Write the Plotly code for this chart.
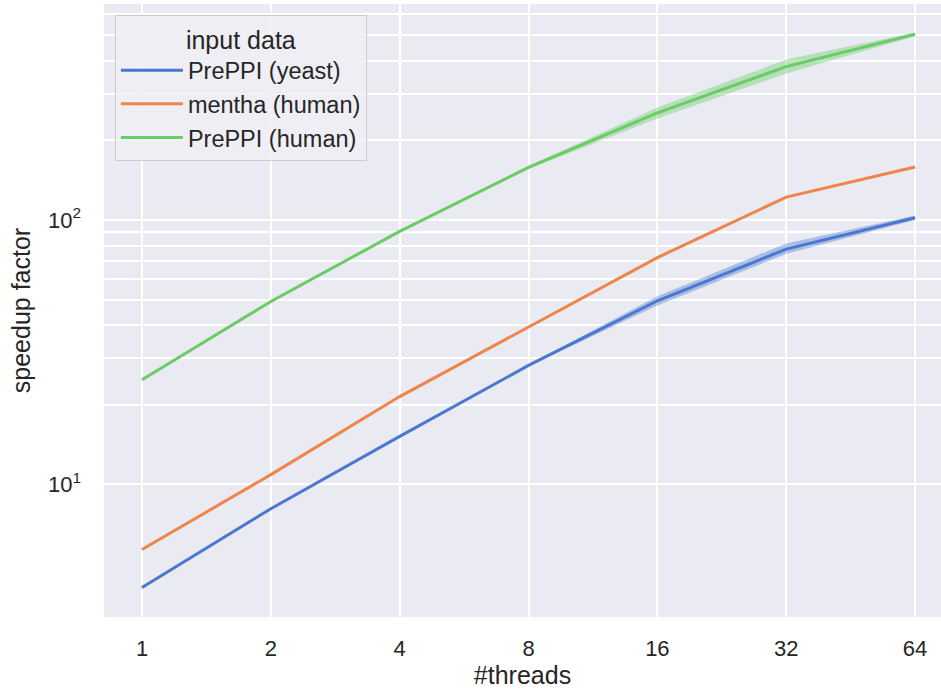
import plotly.graph_objects as go

threads = [1, 2, 4, 8, 16, 32, 64]
thread_labels = ["1", "2", "4", "8", "16", "32", "64"]

series_names = ["PrePPI (yeast)", "mentha (human)", "PrePPI (human)"]
yeast_mean = [4.08, 8.1, 15.2, 28.2, 49.5, 77.6, 102]
yeast_low = [4.05, 8.05, 15.1, 28.0, 47.5, 74.5, 100]
yeast_high = [4.11, 8.15, 15.3, 28.4, 51.5, 81.5, 104]
mentha_mean = [5.68, 10.9, 21.5, 39.5, 72.1, 122, 158.5]
mentha_low = [5.65, 10.85, 21.4, 39.3, 71.3, 121, 157]
mentha_high = [5.71, 10.95, 21.6, 39.7, 72.9, 123, 160]
human_mean = [24.9, 49.2, 90.6, 158, 254, 380, 504]
human_low = [24.8, 49.0, 90.2, 156, 242, 358, 495]
human_high = [25.0, 49.4, 91.0, 160, 266, 404, 512]

colors = ["#4878D0", "#EE854A", "#6ACC64"]
fills = ["rgba(72,120,208,0.4)", "rgba(238,133,74,0.4)", "rgba(106,204,100,0.4)"]

y_grid_vals = [10, 20, 30, 40, 50, 60, 70, 80, 90, 100, 200, 300, 400, 500, 600]
y_grid_text = ["10<sup>1</sup>", "", "", "", "", "", "", "", "", "10<sup>2</sup>", "", "", "", "", ""]

means = [yeast_mean, mentha_mean, human_mean]
lows = [yeast_low, mentha_low, human_low]
highs = [yeast_high, mentha_high, human_high]

fig = go.Figure()
for i in range(3):
    fig.add_trace(go.Scatter(x=threads, y=lows[i], mode="lines", line=dict(width=0),
                             showlegend=False, hoverinfo="skip"))
    fig.add_trace(go.Scatter(x=threads, y=highs[i], mode="lines", line=dict(width=0),
                             fill="tonexty", fillcolor=fills[i], showlegend=False, hoverinfo="skip"))
for i in range(3):
    fig.add_trace(go.Scatter(x=threads, y=means[i], mode="lines", name=series_names[i],
                             line=dict(color=colors[i], width=3)))

font_family = "Liberation Sans, Arial, sans-serif"
fig.update_layout(
    width=941, height=693,
    margin=dict(l=104, r=0, t=4, b=76),
    paper_bgcolor="white",
    plot_bgcolor="#EAEAF2",
    font=dict(family=font_family, size=22, color="#262626"),
    legend=dict(
        x=0.013, y=0.982, xanchor="left", yanchor="top",
        traceorder="normal", itemwidth=62,
        bgcolor="rgba(238,238,244,0.85)", bordercolor="#CCCCCC", borderwidth=1,
        title=dict(text="input data", side="top center", font=dict(size=25)),
        font=dict(size=23.5),
    ),
    xaxis=dict(
        type="log", range=[-0.0888, 1.8668],
        tickvals=threads, ticktext=thread_labels,
        showgrid=True, gridcolor="white", gridwidth=2,
        zeroline=False, showline=False, ticks="",
        ticklabelstandoff=16, tickfont=dict(size=22),
        title=dict(text="#threads", standoff=6, font=dict(size=25)),
    ),
    yaxis=dict(
        type="log", range=[0.499, 2.8166],
        tickvals=y_grid_vals, ticktext=y_grid_text,
        showgrid=True, gridcolor="white", gridwidth=2,
        zeroline=False, showline=False, ticks="",
        ticklabelstandoff=22, tickfont=dict(size=22),
        title=dict(text="speedup factor", standoff=10, font=dict(size=25)),
    ),
)

fig.write_html("out.html")
